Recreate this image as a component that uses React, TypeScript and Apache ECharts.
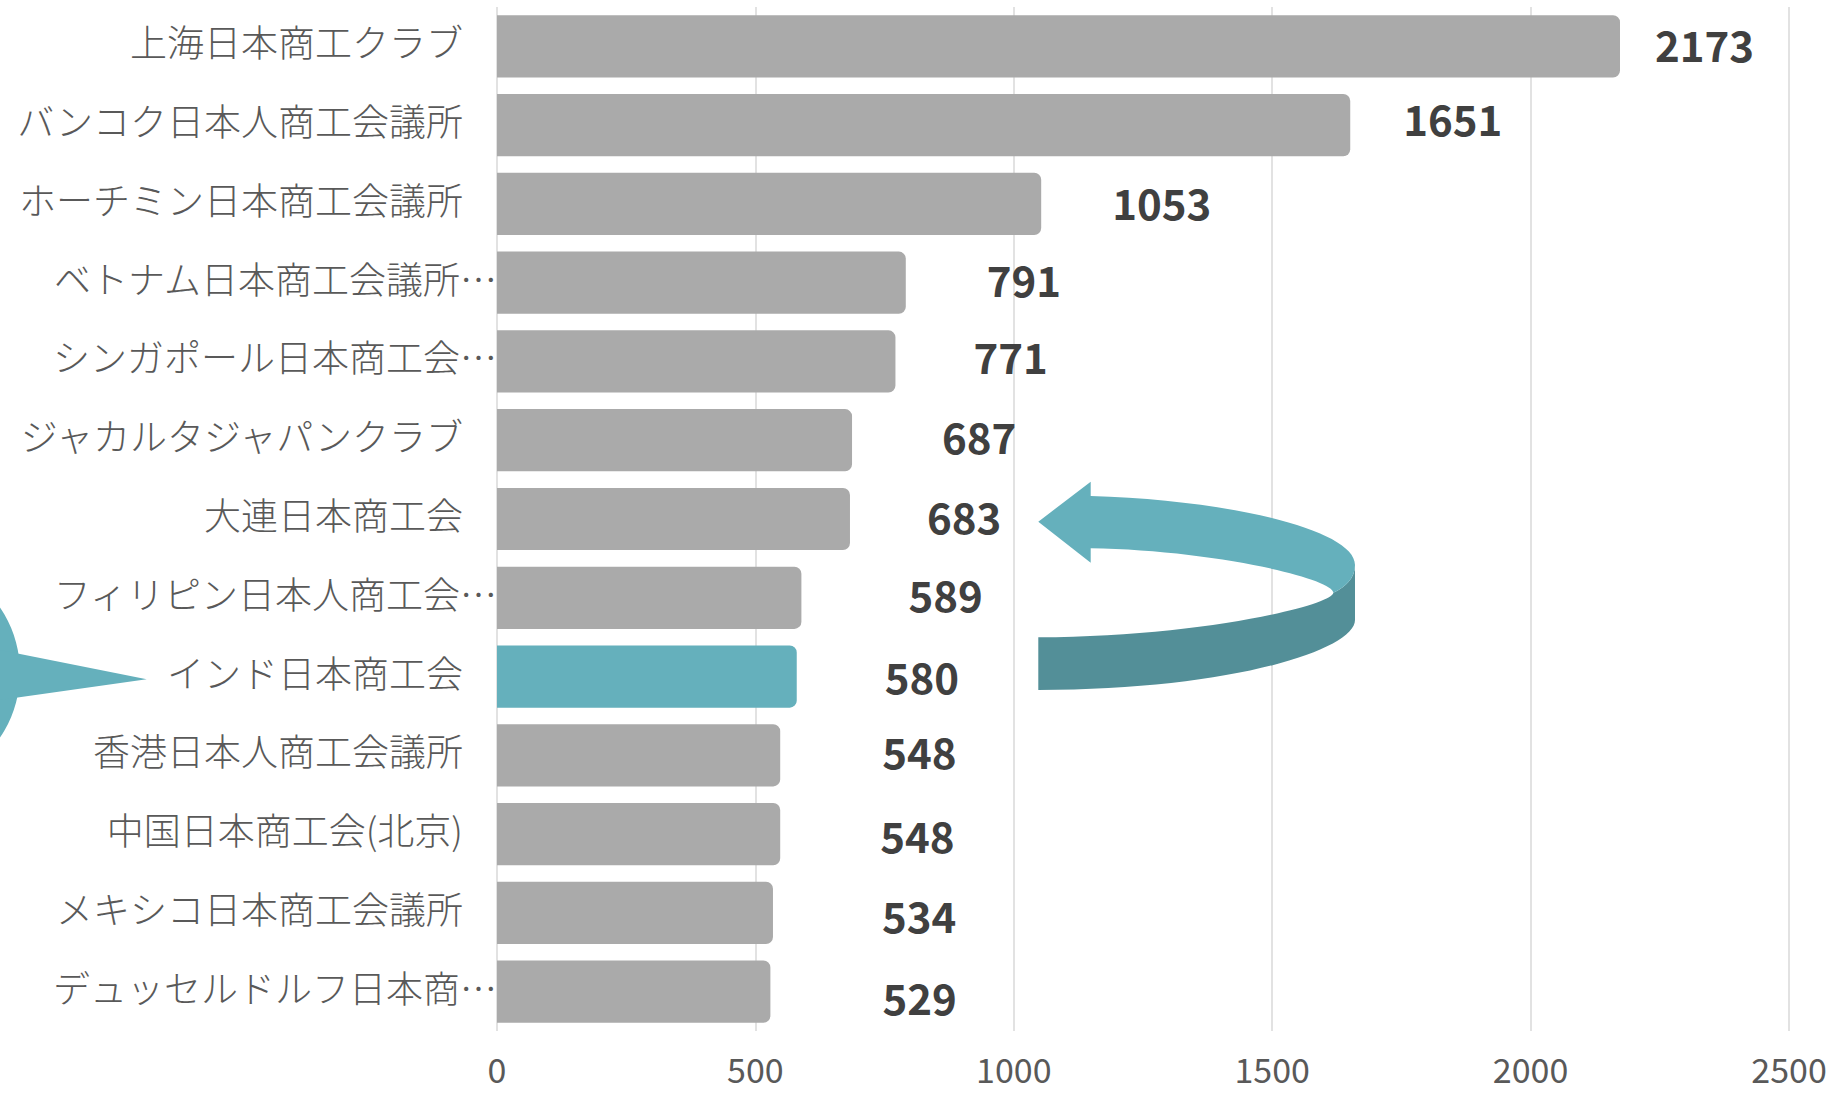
import React, { useEffect, useRef } from 'react';
import * as echarts from 'echarts';

// ---- data ----
const categories: string[] = [
  '上海日本商工クラブ',
  'バンコク日本人商工会議所',
  'ホーチミン日本商工会議所',
  'ベトナム日本商工会議所…',
  'シンガポール日本商工会…',
  'ジャカルタジャパンクラブ',
  '大連日本商工会',
  'フィリピン日本人商工会…',
  'インド日本商工会',
  '香港日本人商工会議所',
  '中国日本商工会(北京)',
  'メキシコ日本商工会議所',
  'デュッセルドルフ日本商…',
];
const values: number[] = [2173, 1651, 1053, 791, 771, 687, 683, 589, 580, 548, 548, 534, 529];
const highlightCategory = 'インド日本商工会';
const axisMin = 0;
const axisMax = 2500;
const axisInterval = 500;

// label placement (style): horizontal / vertical shift from bar end, px
const labelOffsets: number[][] = [
  [35, -3], [53, -8], [71, -2], [81, -4], [78, -6], [90, -5], [77, -4],
  [107, -4], [88, -1], [102, -5], [100, 0], [109, 2], [112, 5],
];

// ---- styles ----
const FONT = '"Noto Sans CJK JP", "Noto Sans", sans-serif';
const GRAY = '#AAAAAA';
const TEAL = '#65B0BC';
const TEAL_DARK = '#538F98';

// decorative U-turn arrow (drawn in pixel space)
const ARROW_LIGHT =
  'M 1038.3 521.7 L 1090.7 481.7 L 1090.7 496 C 1230 500 1355 530 1355 565 ' +
  'C 1355 578 1346 587 1333.3 592.7 C 1333.3 578 1210 550 1090.7 548.3 L 1090.7 562.7 Z';
const ARROW_DARK =
  'M 1038.3 637.3 C 1200 637 1333.3 605 1333.3 592.7 C 1346 587 1355 578 1355 565 ' +
  'L 1355 620 C 1355 650 1230 690 1038.3 690 Z';

echarts.graphic.registerShape('arrowLight', echarts.graphic.extendPath(ARROW_LIGHT, {}));
echarts.graphic.registerShape('arrowDark', echarts.graphic.extendPath(ARROW_DARK, {}));

export default function App() {
  const ref = useRef<HTMLDivElement>(null);

  useEffect(() => {
    if (!ref.current) return;
    const chart = echarts.init(ref.current, undefined, { renderer: 'svg' });

    const data = values.map((v, i) => ({
      value: v,
      itemStyle: { color: categories[i] === highlightCategory ? TEAL : GRAY },
      label: { offset: labelOffsets[i] },
    }));

    const catStyle = { fontFamily: FONT, fontSize: 37, fontWeight: 300, color: '#595959' };

    chart.setOption({
      animation: false,
      backgroundColor: '#ffffff',
      grid: { left: 497, right: 43, top: 7, bottom: 64, containLabel: false },
      xAxis: {
        type: 'value',
        min: axisMin,
        max: axisMax,
        interval: axisInterval,
        axisLine: { show: false },
        axisTick: { show: false },
        splitLine: { show: true, lineStyle: { color: '#D9D9D9', width: 1.5 } },
        axisLabel: {
          fontFamily: FONT,
          fontSize: 34,
          color: '#595959',
          margin: 20,
          formatter: (v: number) => String(v),
        },
      },
      yAxis: {
        type: 'category',
        inverse: true,
        data: categories,
        axisLine: { show: false },
        axisTick: { show: false },
        axisLabel: {
          margin: 0,
          formatter: (v: string) => (v.endsWith('…') ? `{t|${v}}` : `{n|${v}}`),
          rich: {
            t: { ...catStyle, padding: [0, 0, 10, 0] },
            n: { ...catStyle, padding: [0, 34, 10, 0] },
          },
        },
      },
      series: [
        {
          type: 'bar',
          data,
          barCategoryGap: '21%',
          itemStyle: { borderRadius: [0, 7, 7, 0] },
          label: {
            show: true,
            position: 'right',
            distance: 0,
            fontFamily: FONT,
            fontSize: 42,
            fontWeight: 'bold',
            color: '#404040',
          },
        },
      ],
      graphic: [
        { type: 'circle', z: 100, shape: { cx: -96, cy: 672.5, r: 116 }, style: { fill: TEAL } },
        {
          type: 'polygon',
          z: 100,
          shape: { points: [[0, 650], [146.7, 679.3], [0, 700]] },
          style: { fill: TEAL },
        },
        { type: 'arrowDark', z: 100, x: 0, y: 0, style: { fill: TEAL_DARK } },
        { type: 'arrowLight', z: 101, x: 0, y: 0, style: { fill: TEAL } },
      ],
    });

    return () => chart.dispose();
  }, []);

  return (
    <div
      ref={ref}
      style={{ position: 'absolute', left: 0, top: 0, width: 1832, height: 1095, background: '#fff' }}
    />
  );
}
